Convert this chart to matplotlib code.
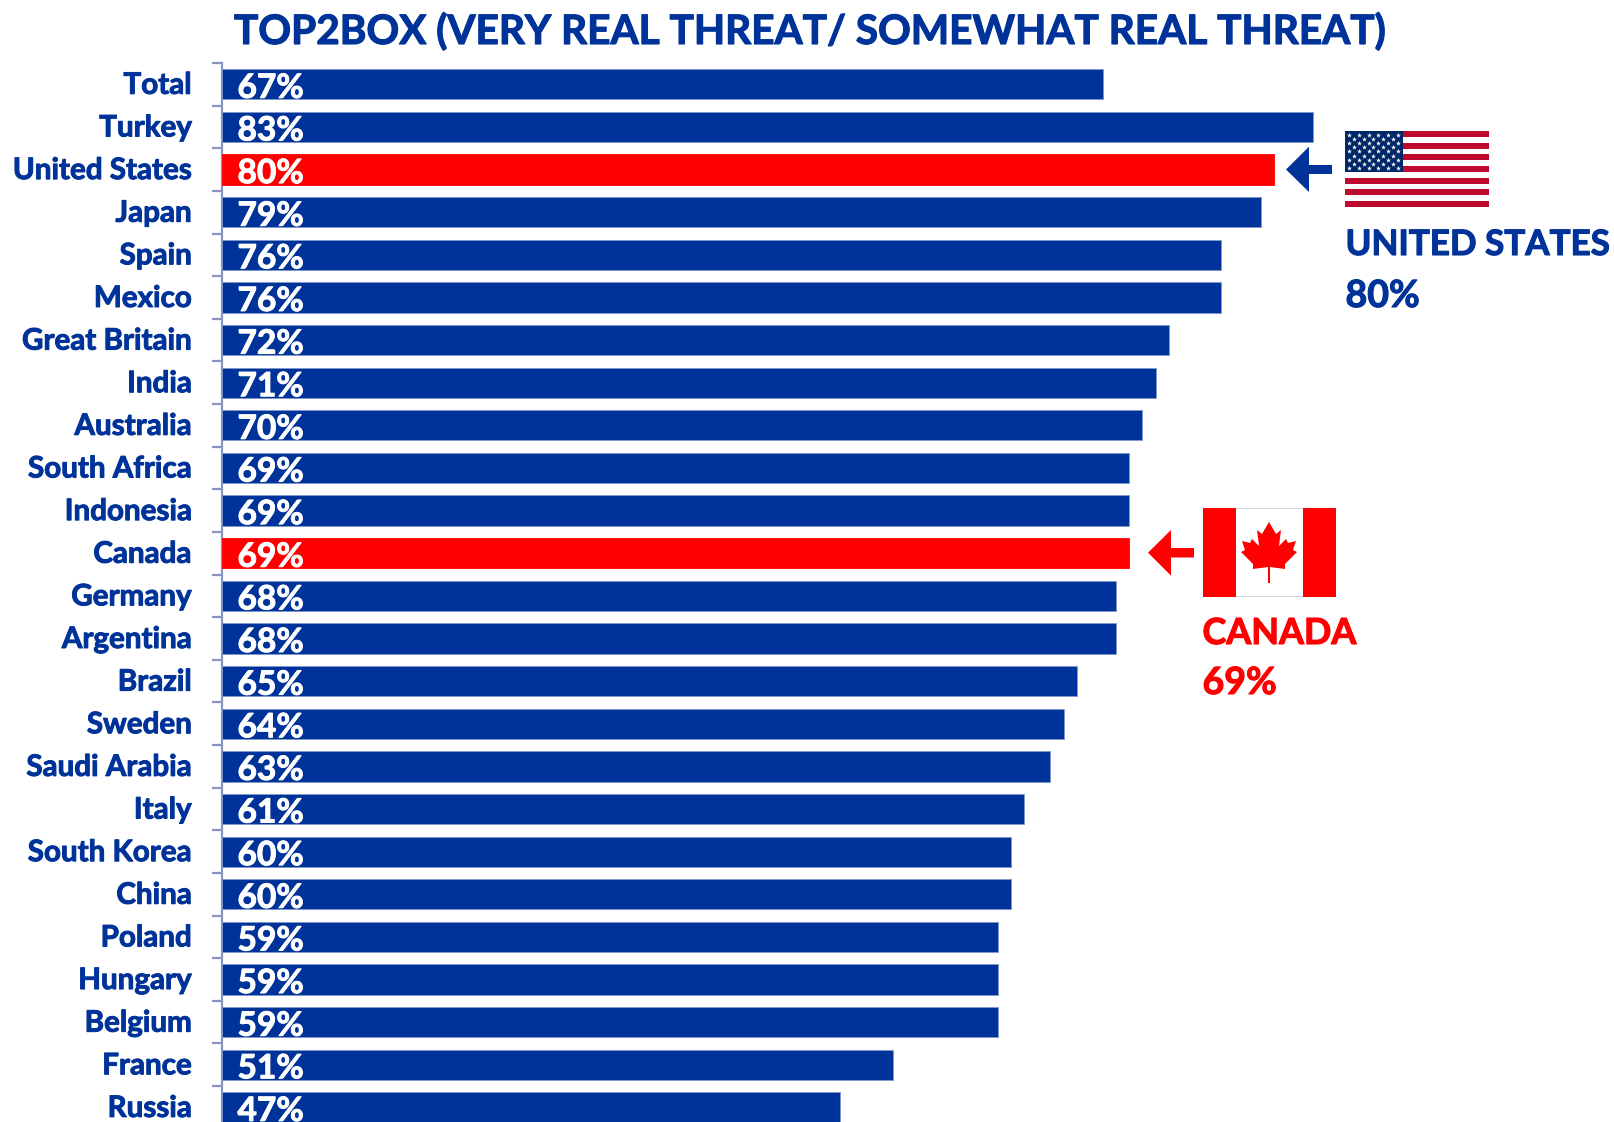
import matplotlib
matplotlib.use('Agg')
import matplotlib.pyplot as plt
import matplotlib.patheffects as pe
from matplotlib.patches import Rectangle, Polygon
from matplotlib.transforms import Affine2D, ScaledTranslation

countries = ['Total','Turkey','United States','Japan','Spain','Mexico','Great Britain','India',
             'Australia','South Africa','Indonesia','Canada','Germany','Argentina','Brazil','Sweden',
             'Saudi Arabia','Italy','South Korea','China','Poland','Hungary','Belgium','France','Russia']
values = [67,83,80,79,76,76,72,71,70,69,69,69,68,68,65,64,63,61,60,60,59,59,59,51,47]
highlighted = ['United States','Canada']

BLUE = '#003399'
RED = '#FF0000'
AXIS = '#8B93C2'
W, H = 1615, 1122
plt.rcParams['font.family'] = ['Lato', 'DejaVu Sans']
plt.rcParams['font.weight'] = 'bold'

def thick(c, w=0.7):
    return [pe.withStroke(linewidth=w, foreground=c)]

fig = plt.figure(figsize=(W/100, H/100), dpi=100, facecolor='white')
top, band, n = 63.0, 42.63, len(countries)
left, px_per_pct = 222.0, 13.15
ax = fig.add_axes([left/W, (H-(top+band*n))/H, (W-left)/W, band*n/H])
ax.set_xlim(0, (W-left)/px_per_pct)
ax.set_ylim(n-0.5, -0.5)
ax.set_facecolor('none')
for s in ['top','right','bottom']:
    ax.spines[s].set_visible(False)
ax.spines['left'].set_color(AXIS)
ax.spines['left'].set_linewidth(1.6)
ax.xaxis.set_visible(False)

for i, (c, v) in enumerate(zip(countries, values)):
    hi = c in highlighted
    ax.barh(i, v, height=0.71, color=RED if hi else BLUE,
            edgecolor=RED if hi else '#7F99CC', linewidth=0.6, zorder=3)
    ax.annotate(f'{v}%', xy=(0, i), xytext=(15.5, -13.5), textcoords='offset pixels',
                color='white', fontsize=24.1, fontweight='bold', va='baseline', ha='left',
                zorder=4, annotation_clip=False, path_effects=thick('white'))

ax.set_yticks(range(n))
ax.set_yticklabels(countries, fontsize=21.3, color=BLUE, fontweight='bold', va='baseline')
ax.tick_params(axis='y', which='major', length=0, pad=21.8)
ax.set_yticks([i-0.5 for i in range(n+1)], minor=True)
ax.tick_params(axis='y', which='minor', length=7.2, width=1.6, color=AXIS)
shift = ScaledTranslation(0, -9.5/100, fig.dpi_scale_trans)
for lab in ax.get_yticklabels():
    lab.set_transform(lab.get_transform() + shift)
    lab.set_path_effects(thick(BLUE))

# everything below is positioned in pixels from the top-left corner
px = Affine2D().scale(1, -1).translate(0, H)
def rect(x0, y0, x1, y1, c, z=5, **kw):
    fig.add_artist(Rectangle((x0, y0), x1-x0, y1-y0, facecolor=c, edgecolor='none', transform=px, zorder=z, **kw))
def poly(pts, c, z=6):
    fig.add_artist(Polygon(pts, closed=True, facecolor=c, edgecolor='none', transform=px, zorder=z))
def label(x, y, s, c, size):
    fig.text(x, H-y, s, transform=None, color=c, fontsize=size, fontweight='bold', va='baseline', ha='left',
             zorder=7, path_effects=thick(c, 0.8))

label(234, 44, 'TOP2BOX (VERY REAL THREAT/ SOMEWHAT REAL THREAT)', BLUE, 29.2)

# United States arrow and flag
poly([(1286,169.5),(1309,146.7),(1309,165),(1332,165),(1332,174),(1309,174),(1309,192)], BLUE)
fx0, fy0, fx1, fy1 = 1344.5, 131, 1488.5, 207
rect(fx0, fy0, fx1, fy1, 'white')
sh = (fy1-fy0)/13
for k in range(0, 13, 2):
    rect(fx0, fy0+k*sh, fx1, fy0+(k+1)*sh, '#BF0A30', z=6)
cx1, cy1 = 1402.5, fy0+7*sh
rect(fx0, fy0, cx1, cy1, '#002868', z=7)
sx, sy = [], []
for r in range(9):
    cols = 6 if r % 2 == 0 else 5
    for q in range(cols):
        sx.append(fx0 + (cx1-fx0)*((q + (0.5 if r % 2 == 0 else 1.0))/6))
        sy.append(fy0 + (cy1-fy0)*(r+1)/10)
star_ax = fig.add_axes([0, 0, 1, 1], facecolor='none', zorder=8)
star_ax.set_xlim(0, W); star_ax.set_ylim(H, 0); star_ax.axis('off')
star_ax.scatter(sx, sy, marker='*', s=14, c='white', linewidths=0)
label(1345.5, 255, 'UNITED STATES', BLUE, 25.2)
label(1345.5, 307, '80%', BLUE, 27)

# Canada arrow and flag
poly([(1148,552.7),(1171,530),(1171,548),(1194,548),(1194,557.5),(1171,557.5),(1171,575.7)], RED)
gx0, gy0, gx1, gy1 = 1202.5, 508, 1335.5, 597
rect(gx0, gy0, gx1, gy1, '#D9D9D9')
rect(gx0, gy0+0.7, gx1, gy1-0.7, 'white', z=5.5)
rect(gx0, gy0, 1235.5, gy1, RED, z=6)
rect(1302.5, gy0, gx1, gy1, RED, z=6)
half = [(0,522),(7,534),(12,530),(10,546),(17,539),(19,543),(27,541),(24,550),(28,552),(16,564),(16,569),(1,567),(1,583)]
cx = 1269
leaf = [(cx+a, b) for a, b in half] + [(cx-a, b) for a, b in reversed(half[1:])]
poly(leaf, RED, z=7)
label(1202.5, 644, 'CANADA', RED, 25.9)
label(1202.5, 694, '69%', RED, 27)

fig.savefig('out.png', dpi=100, facecolor='white')
